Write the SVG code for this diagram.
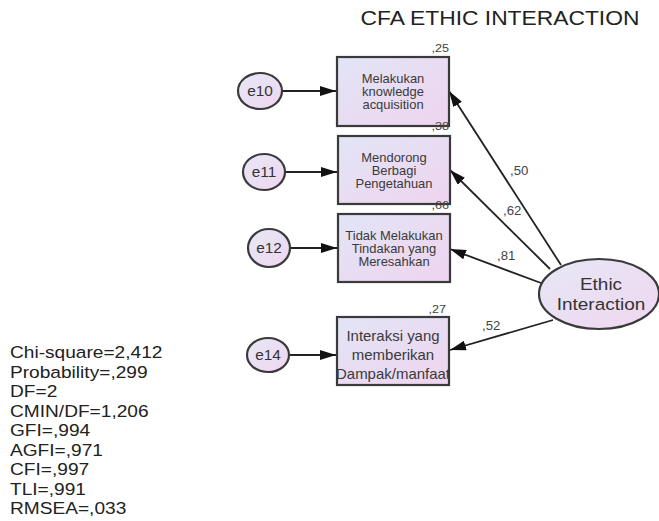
<svg xmlns="http://www.w3.org/2000/svg" width="659" height="521" viewBox="0 0 659 521">
<defs>
<linearGradient id="gb" x1="0" y1="0" x2="1" y2="1">
<stop offset="0" stop-color="#e2e5f6"/>
<stop offset="1" stop-color="#efd4ef"/>
</linearGradient>
<linearGradient id="ge" x1="0" y1="0" x2="1" y2="1">
<stop offset="0" stop-color="#e6e8f6"/>
<stop offset="1" stop-color="#f0d6ef"/>
</linearGradient>
<marker id="ah" viewBox="0 0 16 10" refX="16" refY="5" markerWidth="16" markerHeight="10" markerUnits="userSpaceOnUse" orient="auto">
<path d="M0,0 L16,5 L0,10 Z" fill="#111"/>
</marker>
</defs>
<style>
text{font-family:"Liberation Sans",Arial,sans-serif}
.box{fill:url(#gb);stroke:#3a3a3a;stroke-width:2.2}
.err{fill:url(#ge);stroke:#3a3a3a;stroke-width:2.2}
.bt{font-size:12px;fill:#3a3a3a;text-anchor:middle}
.bt4{font-size:14px;fill:#3a3a3a;text-anchor:middle}
.et{font-size:14px;fill:#333;text-anchor:middle}
.lb{font-size:11.5px;fill:#444}
.pl{font-size:12px;fill:#444}
.st{font-size:17px;fill:#222}
.ln{stroke:#222;stroke-width:1.8;fill:none;marker-end:url(#ah)}
</style>
<text transform="translate(500,25) scale(1.087,1)" style="font-size:21px;fill:#222;text-anchor:middle">CFA ETHIC INTERACTION</text>

<g id="connectors">
<line class="ln" x1="282" y1="91" x2="336" y2="91"/>
<line class="ln" x1="285" y1="172" x2="337" y2="172"/>
<line class="ln" x1="290" y1="248" x2="337" y2="248"/>
<line class="ln" x1="289" y1="355" x2="336" y2="355"/>
<line class="ln" x1="561" y1="265" x2="449" y2="91"/>
<line class="ln" x1="550" y1="269" x2="450" y2="170"/>
<line class="ln" x1="541" y1="283" x2="450" y2="249"/>
<line class="ln" x1="553" y1="320" x2="450" y2="350"/>
</g>

<g id="e10"><ellipse class="err" cx="260" cy="91" rx="22" ry="18"/><text class="et" transform="translate(260,96) scale(1.1,1)">e10</text></g>
<g id="e11"><ellipse class="err" cx="264" cy="172" rx="21" ry="18"/><text class="et" transform="translate(264,177) scale(1.1,1)">e11</text></g>
<g id="e12"><ellipse class="err" cx="269" cy="248" rx="21" ry="19"/><text class="et" transform="translate(269,253) scale(1.1,1)">e12</text></g>
<g id="e14"><ellipse class="err" cx="268" cy="355" rx="21" ry="17"/><text class="et" transform="translate(268,360) scale(1.1,1)">e14</text></g>

<g id="box1"><rect class="box" x="337" y="57" width="112" height="69"/>
<text class="bt" transform="translate(393,83) scale(1.08,1)">Melakukan</text>
<text class="bt" transform="translate(393,96) scale(1.08,1)">knowledge</text>
<text class="bt" transform="translate(393,109) scale(1.08,1)">acquisition</text>
<text class="lb" transform="translate(449,52) scale(1.1,1)" text-anchor="end">,25</text></g>
<g id="box2"><rect class="box" x="338" y="136" width="112" height="68"/>
<text class="bt" transform="translate(394,162) scale(1.08,1)">Mendorong</text>
<text class="bt" transform="translate(394,175) scale(1.08,1)">Berbagi</text>
<text class="bt" transform="translate(394,188) scale(1.08,1)">Pengetahuan</text>
<text class="lb" transform="translate(449,130) scale(1.1,1)" text-anchor="end">,38</text></g>
<g id="box3"><rect class="box" x="338" y="214" width="112" height="68"/>
<text class="bt" transform="translate(394,240) scale(1.08,1)">Tidak Melakukan</text>
<text class="bt" transform="translate(394,253) scale(1.08,1)">Tindakan yang</text>
<text class="bt" transform="translate(394,266) scale(1.08,1)">Meresahkan</text>
<text class="lb" transform="translate(449,209) scale(1.1,1)" text-anchor="end">,66</text></g>
<g id="box4"><rect class="box" x="337" y="317" width="112" height="68"/>
<text class="bt4" transform="translate(393,341) scale(1.07,1)">Interaksi yang</text>
<text class="bt4" transform="translate(393,360) scale(1.07,1)">memberikan</text>
<text class="bt4" transform="translate(393,379) scale(1.07,1)">Dampak/manfaat</text>
<text class="lb" transform="translate(446,313) scale(1.1,1)" text-anchor="end">,27</text></g>

<g id="ethic"><ellipse class="err" cx="599" cy="294" rx="60" ry="35"/>
<text transform="translate(601,290) scale(1.15,1)" style="font-size:16.5px;fill:#333;text-anchor:middle">Ethic</text>
<text transform="translate(601,310) scale(1.15,1)" style="font-size:16.5px;fill:#333;text-anchor:middle">Interaction</text></g>

<g id="path-labels">
<text class="pl" transform="translate(510,175) scale(1.1,1)">,50</text>
<text class="pl" transform="translate(503,215) scale(1.1,1)">,62</text>
<text class="pl" transform="translate(497,260) scale(1.1,1)">,81</text>
<text class="pl" transform="translate(482,330) scale(1.1,1)">,52</text>
</g>

<g id="fit" transform="translate(10,0) scale(1.125,1)">
<text class="st" x="0" y="358">Chi-square=2,412</text>
<text class="st" x="0" y="378">Probability=,299</text>
<text class="st" x="0" y="397">DF=2</text>
<text class="st" x="0" y="417">CMIN/DF=1,206</text>
<text class="st" x="0" y="436">GFI=,994</text>
<text class="st" x="0" y="456">AGFI=,971</text>
<text class="st" x="0" y="475">CFI=,997</text>
<text class="st" x="0" y="495">TLI=,991</text>
<text class="st" x="0" y="514">RMSEA=,033</text>
</g>
</svg>
